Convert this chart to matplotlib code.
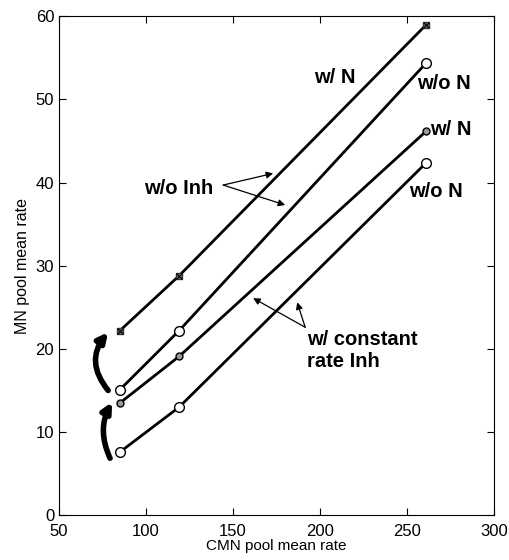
import matplotlib.pyplot as plt

cmn_rate = [85, 119, 261]
mn_wN_noinh = [22.2, 28.8, 59.0]
mn_woN_noinh = [15.1, 22.2, 54.4]
mn_wN_inh = [13.5, 19.1, 46.2]
mn_woN_inh = [7.6, 13.0, 42.4]

plt.rcParams['font.family'] = ['Liberation Sans', 'DejaVu Sans']

fig = plt.figure(figsize=(5.09, 5.6), dpi=100)
ax = fig.add_axes([0.116, 0.080, 0.855, 0.891])

ax.plot(cmn_rate, mn_wN_noinh, color='k', lw=2, marker='s', ms=5, mfc='0.45', mec='0.2')
ax.plot(cmn_rate, mn_wN_noinh, color='none', marker='x', ms=5, mec='k', mew=0.8)
ax.plot(cmn_rate, mn_woN_noinh, color='k', lw=2, marker='o', ms=7, mfc='white', mec='k')
ax.plot(cmn_rate, mn_wN_inh, color='k', lw=2, marker='o', ms=5, mfc='0.6', mec='k')
ax.plot(cmn_rate, mn_woN_inh, color='k', lw=2, marker='o', ms=7, mfc='white', mec='k')

ax.set_xlim(50, 300)
ax.set_ylim(0, 60)
ax.set_xticks([50, 100, 150, 200, 250, 300])
ax.set_yticks([0, 10, 20, 30, 40, 50, 60])
ax.tick_params(direction='in', top=True, right=True, labelsize=12, length=5)
ax.tick_params(axis='x', pad=6)
ax.set_xlabel('CMN pool mean rate', fontsize=11, labelpad=0)
ax.set_ylabel('MN pool mean rate', fontsize=11.5, labelpad=4)

lab = dict(fontsize=14.5, fontweight='bold', ha='center', va='center')
ax.text(208.6, 52.6, 'w/ N', **lab)
ax.text(271.3, 51.9, 'w/o N', **lab)
ax.text(275.3, 46.4, 'w/ N', **lab)
ax.text(266.7, 38.9, 'w/o N', **lab)
ax.text(119, 39.3, 'w/o Inh', **lab)
ax.text(192.5, 19.8, 'w/ constant\nrate Inh', fontsize=14.5, fontweight='bold',
        ha='left', va='center', linespacing=1.25)

thin = dict(arrowstyle='-|>', color='k', lw=0.9, mutation_scale=10, shrinkA=0, shrinkB=0)
ax.annotate('', xy=(173, 41.1), xytext=(144.3, 39.7), arrowprops=thin)
ax.annotate('', xy=(179.9, 37.3), xytext=(144.3, 39.7), arrowprops=thin)
ax.annotate('', xy=(161.5, 26.1), xytext=(191.4, 22.6), arrowprops=thin)
ax.annotate('', xy=(186.8, 25.6), xytext=(191.4, 22.6), arrowprops=thin)

thick = dict(arrowstyle='-|>', color='k', lw=4, mutation_scale=14, shrinkA=0, shrinkB=0)
ax.annotate('', xy=(78.2, 22.0), xytext=(78.2, 15.0),
            arrowprops=dict(connectionstyle='arc3,rad=-0.4', **thick))
ax.annotate('', xy=(80.5, 13.6), xytext=(79.3, 6.85),
            arrowprops=dict(connectionstyle='arc3,rad=-0.25', **thick))

fig.savefig('out.png', dpi=100)
